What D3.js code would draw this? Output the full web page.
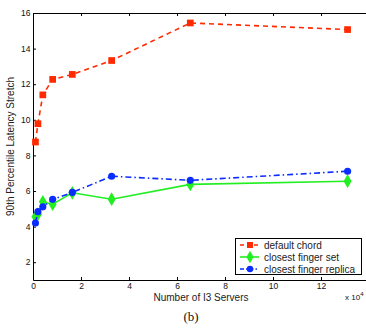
<!DOCTYPE html>
<html>
<head>
<meta charset="utf-8">
<script src="https://cdn.jsdelivr.net/npm/d3@7"></script>
<style>
  html, body { margin: 0; padding: 0; background: #fff; }
  svg { display: block; font-family: "Liberation Sans", Arial, sans-serif; }
</style>
</head>
<body>
<div id="chart"></div>
<script>
// number of i3 servers, in units of 10^4 (2^10 .. 2^17)
const servers = [0.1024, 0.2048, 0.4096, 0.8192, 1.6384, 3.2768, 6.5536, 13.1072];
const seriesNames = ['default chord', 'closest finger set', 'closest finger replica'];
const defaultChord = [8.75, 9.78, 11.4, 12.27, 12.55, 13.33, 15.44, 15.07];
const closestFingerSet = [4.55, 4.7, 5.39, 5.26, 5.9, 5.54, 6.37, 6.55];
const closestFingerReplica = [4.2, 4.84, 5.11, 5.53, 5.92, 6.83, 6.6, 7.11];
const xTicks = [0, 2, 4, 6, 8, 10, 12];
const yTicks = [2, 4, 6, 8, 10, 12, 14, 16];

const width = 366;
const height = 329;
const margin = { top: 13, right: -3, bottom: 49, left: 33 };

const svg = d3.select('#chart')
  .append('svg')
  .attr('width', width)
  .attr('height', height);

const x = d3.scaleLinear()
  .domain([0, 14])
  .range([margin.left, width - margin.right]);

const y = d3.scaleLinear()
  .domain([1, 16])
  .range([height - margin.bottom, margin.top]);

// axes box with inward ticks
const x0 = x.range()[0], x1 = x.range()[1];
const y0 = y.range()[0], y1 = y.range()[1];

svg.append('g')
  .attr('transform', `translate(0, ${y0})`)
  .call(d3.axisBottom(x).tickValues(xTicks).tickSize(-3).tickPadding(3).tickSizeOuter(0))
  .call(g => g.select('.domain').attr('stroke', '#000'))
  .call(g => g.selectAll('text').attr('font-size', 8.5).attr('fill', '#111'));

svg.append('g')
  .attr('transform', `translate(0, ${y1})`)
  .call(d3.axisTop(x).tickValues(xTicks).tickSize(-3).tickFormat('').tickSizeOuter(0));

svg.append('g')
  .attr('transform', `translate(${x0}, 0)`)
  .call(d3.axisLeft(y).tickValues(yTicks).tickSize(-3).tickPadding(2.5).tickSizeOuter(0))
  .call(g => g.selectAll('text').attr('font-size', 8.5).attr('fill', '#111'));

svg.append('line')
  .attr('x1', x1 - 0.5).attr('x2', x1 - 0.5)
  .attr('y1', y0).attr('y2', y1)
  .attr('stroke', '#000');

// lines
const series = [
  { name: seriesNames[0], values: defaultChord, color: '#ff2a00', dash: '5,4', width: 1.6, symbol: d3.symbolSquare, size: 45 },
  { name: seriesNames[1], values: closestFingerSet, color: '#22ee22', dash: null, width: 1.6, symbol: d3.symbolDiamond, size: 55 },
  { name: seriesNames[2], values: closestFingerReplica, color: '#0a2cff', dash: '6,3,1.5,3', width: 1.6, symbol: d3.symbolCircle, size: 40 }
];

const line = d3.line()
  .x((d, i) => x(servers[i]))
  .y(d => y(d));

const plot = svg.append('g');

series.forEach(s => {
  plot.append('path')
    .attr('d', line(s.values))
    .attr('fill', 'none')
    .attr('stroke', s.color)
    .attr('stroke-width', s.width)
    .attr('stroke-dasharray', s.dash);

  plot.selectAll(null)
    .data(s.values)
    .join('path')
    .attr('transform', (d, i) => `translate(${x(servers[i])}, ${y(d)})`)
    .attr('d', d3.symbol().type(s.symbol).size(s.size))
    .attr('fill', s.color);
});

// axis labels
svg.append('text')
  .attr('x', (x0 + x1) / 2)
  .attr('y', 301)
  .attr('text-anchor', 'middle')
  .attr('font-size', 10)
  .attr('fill', '#222')
  .text('Number of I3 Servers');

svg.append('text')
  .attr('transform', `translate(14, ${(y0 + y1) / 2}) rotate(-90)`)
  .attr('text-anchor', 'middle')
  .attr('font-size', 10)
  .attr('fill', '#222')
  .text('90th Percentile Latency Stretch');

const mult = svg.append('text')
  .attr('x', 345)
  .attr('y', 300)
  .attr('font-size', 8)
  .attr('fill', '#111');
mult.append('tspan').text('x 10');
mult.append('tspan').attr('dy', -4).attr('font-size', 6).text('4');

svg.append('text')
  .attr('x', 191)
  .attr('y', 321)
  .attr('text-anchor', 'middle')
  .attr('font-family', '"Liberation Serif", "Times New Roman", serif')
  .attr('font-size', 13)
  .attr('fill', '#111')
  .text('(b)');

// legend
const legend = svg.append('g').attr('transform', 'translate(235, 238)');
legend.append('rect')
  .attr('x', 0.5).attr('y', 0.5)
  .attr('width', 126).attr('height', 36)
  .attr('fill', '#fff')
  .attr('stroke', '#000');

series.forEach((s, i) => {
  const ly = 7 + i * 12;
  legend.append('line')
    .attr('x1', 5).attr('x2', 24)
    .attr('y1', ly).attr('y2', ly)
    .attr('stroke', s.color)
    .attr('stroke-width', s.width)
    .attr('stroke-dasharray', s.dash ? (i === 0 ? '4,3' : '4,2,1.5,2') : null);
  legend.append('path')
    .attr('transform', `translate(15, ${ly})`)
    .attr('d', d3.symbol().type(s.symbol).size(s.size * 0.8))
    .attr('fill', s.color);
  legend.append('text')
    .attr('x', 29)
    .attr('y', ly + 3.5)
    .attr('font-size', 10)
    .attr('fill', '#222')
    .text(s.name);
});
</script>
</body>
</html>
